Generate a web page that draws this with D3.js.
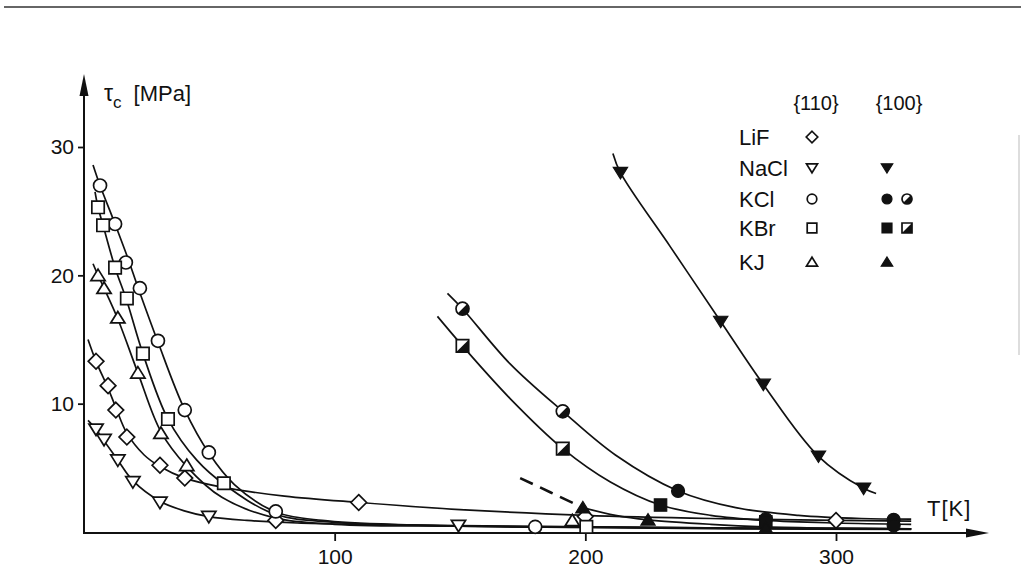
<!DOCTYPE html>
<html>
<head>
<meta charset="utf-8">
<script src="https://cdn.jsdelivr.net/npm/d3@7"></script>
<style>
  body { margin: 0; background: #fff; }
  svg { display: block; }
  text { font-family: "Liberation Sans", Arial, sans-serif; fill: #111; }
</style>
</head>
<body>
<svg id="chart" width="1021" height="587"></svg>
<script>
// ---- axis ticks ----
const xTicks = [100, 200, 300];
const yTicks = [10, 20, 30];

// ---- legend ----
const crystals = ["LiF", "NaCl", "KCl", "KBr", "KJ"];
const planes = ["{110}", "{100}"];

// ---- measured points, {110} glide (open symbols) ----
const lifT    = [4.8, 9.6, 12.7, 17.1, 30.3, 40.2, 76.5, 109.6, 200, 300];
const lifTau  = [13.3, 11.4, 9.5, 7.4, 5.2, 4.2, 0.9, 2.3, 1.2, 0.9];
const naclT   = [4.8, 8.0, 13.5, 19.5, 30.3, 49.8, 149.4];
const naclTau = [8.0, 7.2, 5.6, 3.9, 2.3, 1.2, 0.5];
const kclT    = [6.4, 12.4, 16.7, 22.3, 29.5, 40.2, 49.8, 76.5, 180];
const kclTau  = [27.0, 24.0, 21.0, 19.0, 14.9, 9.5, 6.2, 1.6, 0.4];
const kbrT    = [5.6, 7.6, 12.4, 17.1, 23.5, 33.5, 55.8, 200.4];
const kbrTau  = [25.3, 23.9, 20.6, 18.2, 13.9, 8.8, 3.8, 0.4];
const kjT     = [5.6, 8.0, 13.5, 21.5, 30.7, 41.0, 194.8];
const kjTau   = [20.0, 19.0, 16.7, 12.4, 7.7, 5.2, 0.9];

// ---- measured points, {100} glide (filled / half-filled symbols) ----
const nacl100T    = [214, 254, 271, 293, 311];
const nacl100Tau  = [28.0, 16.4, 11.5, 5.9, 3.4];
const kcl100HalfT   = [151, 191];
const kcl100HalfTau = [17.4, 9.4];
const kcl100T     = [237, 272, 323, 323];
const kcl100Tau   = [3.2, 1.0, 0.95, 0.5];
const kbr100HalfT   = [151, 191];
const kbr100HalfTau = [14.5, 6.5];
const kbr100T     = [230, 272];
const kbr100Tau   = [2.1, 0.8];
const kj100T      = [199, 225, 272];
const kj100Tau    = [1.9, 0.95, 0.3];

// ---- guide curves drawn through the data ----
const lifFitT    = [1.6, 4.8, 9.6, 12.7, 17.1, 24, 30.3, 40.2, 55, 80, 110, 150, 200, 250, 300, 330];
const lifFitTau  = [15.0, 13.3, 11.2, 9.7, 7.7, 6.0, 5.1, 4.2, 3.5, 2.8, 2.3, 1.75, 1.3, 1.05, 0.9, 0.85];
const naclFitT   = [1.6, 4.8, 8, 13.5, 19.5, 30.3, 40, 49.8, 65, 85, 110, 149.4, 200, 260, 330];
const naclFitTau = [8.7, 8.0, 7.1, 5.6, 4.0, 2.4, 1.65, 1.2, 0.9, 0.7, 0.6, 0.5, 0.4, 0.3, 0.25];
const kclFitT    = [3.6, 6.4, 12, 17, 22, 29.5, 40, 50, 60, 76, 95, 130, 180, 250, 330];
const kclFitTau  = [28.6, 27.0, 24.2, 21.6, 18.8, 14.8, 9.6, 6.1, 3.7, 1.6, 0.9, 0.55, 0.4, 0.3, 0.25];
const kbrFitT    = [4.4, 5.6, 7.6, 12.4, 17.1, 23.5, 33.5, 45, 56, 76, 100, 150, 200, 260, 330];
const kbrFitTau  = [26.5, 25.3, 23.9, 20.6, 18.0, 13.9, 8.8, 5.6, 3.7, 1.4, 0.75, 0.45, 0.35, 0.25, 0.2];
const kjFitT     = [3.6, 5.6, 8, 13.5, 21.5, 30.7, 41, 55, 76, 100, 150, 200, 260, 330];
const kjFitTau   = [20.9, 20.0, 19.0, 16.6, 12.4, 7.8, 5.1, 2.7, 1.1, 0.6, 0.45, 0.4, 0.3, 0.25];
const nacl100FitT   = [211, 214, 234, 254, 271, 293, 311, 316];
const nacl100FitTau = [29.5, 28.0, 22.2, 16.4, 11.5, 5.9, 3.4, 3.0];
const kcl100FitT    = [145, 151, 170, 191, 212, 237, 260, 285, 310, 330];
const kcl100FitTau  = [18.6, 17.4, 13.1, 9.4, 6.0, 3.2, 1.9, 1.3, 1.05, 1.0];
const kbr100FitT    = [141, 151, 170, 191, 210, 230, 250, 272, 300, 330];
const kbr100FitTau  = [16.8, 14.5, 10.4, 6.5, 3.9, 2.1, 1.3, 0.9, 0.7, 0.6];
const kj100DashT    = [174, 186, 199];
const kj100DashTau  = [4.2, 3.1, 1.9];
const kj100FitT     = [199, 212, 225, 250, 272, 300, 330];
const kj100FitTau   = [1.9, 1.3, 0.95, 0.6, 0.4, 0.3, 0.25];

const ink = "#111";
const svg = d3.select("#chart");

// scales
const x = d3.scaleLinear().domain([0, 300]).range([84, 836]);
const y = d3.scaleLinear().domain([0, 30]).range([532, 147]);

// thin frame line across the top
svg.append("line").attr("x1", 4).attr("x2", 1021).attr("y1", 7).attr("y2", 7)
  .attr("stroke", "#333").attr("stroke-width", 1.4);
svg.append("line").attr("x1", 1019).attr("x2", 1019).attr("y1", 135).attr("y2", 355)
  .attr("stroke", "#ddd").attr("stroke-width", 2);

// ---- axes ----
const axisY = svg.append("g").attr("transform", `translate(${x(0)},0)`)
  .call(d3.axisLeft(y).tickValues(yTicks).tickSize(6).tickPadding(4).tickFormat(d3.format("d")));
axisY.select(".domain").remove();
axisY.selectAll(".tick line").attr("stroke", ink).attr("stroke-width", 1.8);
axisY.selectAll(".tick text").attr("font-size", 21).attr("fill", ink)
  .style("font-family", '"Liberation Sans", Arial, sans-serif');

const axisX = svg.append("g").attr("transform", `translate(0,${y(0) + 1})`)
  .call(d3.axisBottom(x).tickValues(xTicks).tickSize(8).tickPadding(8).tickFormat(d3.format("d")));
axisX.select(".domain").remove();
axisX.selectAll(".tick line").attr("stroke", ink).attr("stroke-width", 1.8);
axisX.selectAll(".tick text").attr("font-size", 21).attr("fill", ink)
  .style("font-family", '"Liberation Sans", Arial, sans-serif');

// axis lines with arrow heads
svg.append("line").attr("x1", x(0)).attr("x2", x(0)).attr("y1", y(0) + 2).attr("y2", 84)
  .attr("stroke", ink).attr("stroke-width", 2);
svg.append("path").attr("d", `M${x(0)},74L${x(0) + 4.5},96L${x(0) - 4.5},96Z`).attr("fill", ink);
svg.append("line").attr("x1", x(0) - 1).attr("x2", 978).attr("y1", y(0) + 1).attr("y2", y(0) + 1)
  .attr("stroke", ink).attr("stroke-width", 2);
svg.append("path").attr("d", `M989,${y(0) + 1}L966,${y(0) - 3.5}L966,${y(0) + 5.5}Z`).attr("fill", ink);

// axis titles
const yTitle = svg.append("text").attr("x", 104).attr("y", 101).attr("font-size", 23);
yTitle.append("tspan").text("τ");
yTitle.append("tspan").attr("font-size", 17).attr("dy", 7).text("c");
yTitle.append("tspan").attr("dx", 12).attr("dy", -7).attr("font-size", 22).text("[MPa]");
svg.append("text").attr("x", 927).attr("y", 516).attr("font-size", 22)
  .attr("letter-spacing", 1).text("T[K]");

// ---- curves ----
const line = d3.line().x(d => x(d[0])).y(d => y(d[1])).curve(d3.curveCatmullRom.alpha(0.5));
const zip = (a, b) => a.map((v, i) => [v, b[i]]);
const curves = [
  [lifFitT, lifFitTau], [naclFitT, naclFitTau], [kclFitT, kclFitTau],
  [kbrFitT, kbrFitTau], [kjFitT, kjFitTau],
  [nacl100FitT, nacl100FitTau], [kcl100FitT, kcl100FitTau],
  [kbr100FitT, kbr100FitTau], [kj100FitT, kj100FitTau]
];
svg.append("g").selectAll("path").data(curves).join("path")
  .attr("d", c => line(zip(c[0], c[1])))
  .attr("fill", "none").attr("stroke", ink).attr("stroke-width", 1.7);
svg.append("path").attr("d", line(zip(kj100DashT, kj100DashTau)))
  .attr("fill", "none").attr("stroke", ink).attr("stroke-width", 2.6)
  .attr("stroke-dasharray", "14 8");

// ---- symbol shapes ----
function shape(kind, s) {
  switch (kind) {
    case "circle":  return `M${s},0A${s},${s} 0 1,1 ${-s},0A${s},${s} 0 1,1 ${s},0Z`;
    case "square":  return `M${-s},${-s}H${s}V${s}H${-s}Z`;
    case "diamond": { const d = s * 1.2; return `M0,${-d}L${d},0L0,${d}L${-d},0Z`; }
    case "up":      { const w = s * 1.15, h = s; return `M0,${-h}L${w},${h * 0.85}L${-w},${h * 0.85}Z`; }
    case "down":    { const w = s * 1.15, h = s; return `M0,${h}L${w},${-h * 0.85}L${-w},${-h * 0.85}Z`; }
  }
}
// lower-right half used by the half-filled symbols
function halfShape(kind, s) {
  const c = s * Math.SQRT1_2;
  if (kind === "circle") return `M${c},${-c}A${s},${s} 0 0,1 ${-c},${c}Z`;
  return `M${s},${-s}L${s},${s}L${-s},${s}Z`;
}

function drawMarker(g, kind, style, s) {
  if (style === "filled") {
    g.append("path").attr("d", shape(kind, s)).attr("fill", ink).attr("stroke", ink).attr("stroke-width", 1.2);
  } else {
    g.append("path").attr("d", shape(kind, s)).attr("fill", "#fff").attr("stroke", ink).attr("stroke-width", 1.7);
    if (style === "half") g.append("path").attr("d", halfShape(kind, s)).attr("fill", ink);
  }
}

const series = [
  { T: lifT, tau: lifTau, kind: "diamond", style: "open", s: 6.5 },
  { T: naclT, tau: naclTau, kind: "down", style: "open", s: 6.2 },
  { T: kclT, tau: kclTau, kind: "circle", style: "open", s: 6.5 },
  { T: kbrT, tau: kbrTau, kind: "square", style: "open", s: 6.2 },
  { T: kjT, tau: kjTau, kind: "up", style: "open", s: 6.2 },
  { T: nacl100T, tau: nacl100Tau, kind: "down", style: "filled", s: 6.2 },
  { T: kcl100HalfT, tau: kcl100HalfTau, kind: "circle", style: "half", s: 6.5 },
  { T: kcl100T, tau: kcl100Tau, kind: "circle", style: "filled", s: 6.5 },
  { T: kbr100HalfT, tau: kbr100HalfTau, kind: "square", style: "half", s: 6.2 },
  { T: kbr100T, tau: kbr100Tau, kind: "square", style: "filled", s: 6.2 },
  { T: kj100T, tau: kj100Tau, kind: "up", style: "filled", s: 6.2 }
];
const marks = svg.append("g");
series.forEach(sr => {
  sr.T.forEach((t, i) => {
    const g = marks.append("g").attr("transform", `translate(${x(t)},${y(sr.tau[i])})`);
    drawMarker(g, sr.kind, sr.style, sr.s);
  });
});

// ---- legend ----
const legendRows = [137, 168, 199, 228, 262];
const openKinds = ["diamond", "down", "circle", "square", "up"];
const filledKinds = [null, "down", "circle", "square", "up"];
const halfKinds = [null, null, "circle", "square", null];
const lg = svg.append("g");
lg.selectAll("text.hdr").data(planes).join("text").attr("class", "hdr")
  .attr("x", (d, i) => i === 0 ? 816 : 899).attr("y", 110)
  .attr("text-anchor", "middle").attr("font-size", 20).text(d => d);
crystals.forEach((name, i) => {
  const cy = legendRows[i];
  lg.append("text").attr("x", 739).attr("y", cy + 8).attr("font-size", 22).text(name);
  drawMarker(lg.append("g").attr("transform", `translate(812,${cy})`), openKinds[i], "open", 4.8);
  if (filledKinds[i]) drawMarker(lg.append("g").attr("transform", `translate(887,${cy})`), filledKinds[i], "filled", 5);
  if (halfKinds[i]) drawMarker(lg.append("g").attr("transform", `translate(907,${cy})`), halfKinds[i], "half", 5);
});
</script>
</body>
</html>
